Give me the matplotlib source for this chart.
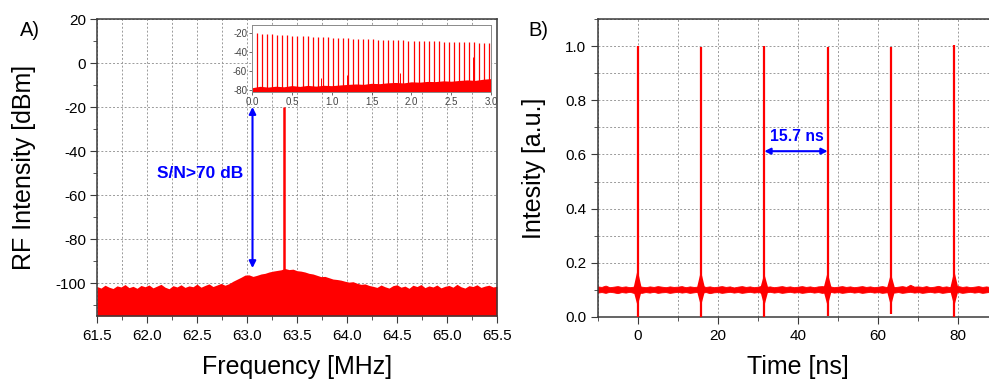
"""
Two-panel figure: RF spectrum of the mode-locked output (A) and the
corresponding oscilloscope pulse train (B).
"""

import matplotlib
matplotlib.use('Agg')
import matplotlib.pyplot as plt
import matplotlib.ticker as mticker
import numpy as np

plt.rcParams.update({
    'font.family': ['Liberation Sans', 'DejaVu Sans'],
    'font.size': 11,
    'axes.unicode_minus': False,
    'axes.linewidth': 1.1,
    'axes.edgecolor': '#3a3a3a',
    'xtick.color': '#3a3a3a',
    'ytick.color': '#3a3a3a',
    'xtick.labelcolor': 'black',
    'ytick.labelcolor': 'black',
    'xtick.direction': 'out',
    'ytick.direction': 'out',
    'xtick.major.size': 5,
    'ytick.major.size': 5,
    'xtick.minor.size': 3,
    'ytick.minor.size': 3,
})

RED = '#ff0000'
BLUE = '#0000ff'
GRID = dict(color='#9a9a9a', linestyle=(0, (2, 2)), linewidth=0.7)

# =============================================================================
# Panel A: RF spectrum around the fundamental (MHz, dBm)
# =============================================================================
# top edge of the noise floor, read every 0.04 MHz from 61.50 to 65.50
rf_floor_top = [
    -101.6, -102.3, -101.0, -101.9, -102.5, -101.3, -101.8, -100.7, -102.1, -101.5,
    -102.4, -101.1, -101.7, -100.9, -102.2, -101.4, -100.6, -101.9, -102.6, -101.2,
    -101.8, -100.8, -102.0, -101.3, -101.7, -100.5, -101.9, -101.1, -100.4, -101.6,
    -100.9, -100.2, -101.0,
    -100.3, -99.2, -98.3, -97.4, -96.4, -96.3, -97.0, -96.5, -95.9, -95.6,
    -95.0, -94.6, -94.3, -94.0, -93.4, -93.9, -93.7, -94.4, -94.6, -95.0,
    -95.6, -95.9, -96.5, -97.1, -97.0, -97.6, -98.2, -98.4, -98.7, -99.2,
    -99.6, -99.4, -100.1, -100.6, -100.4, -101.1,
    -101.5, -102.0, -100.9, -101.7, -102.3, -101.2, -100.8, -101.9, -101.4, -102.4,
    -101.0, -101.6, -100.7, -102.1, -101.3, -101.8, -100.9, -102.2, -101.5, -101.1,
    -101.9, -100.6, -101.7, -102.3, -101.2, -101.6, -100.8, -102.0, -101.4, -101.0,
    -101.8, -101.5,
]
rf_peak_freq = 63.37
rf_peak_level = -20.0

# inset: harmonics up to 3 GHz (GHz, dBm)
harm_freq = [
    0.063, 0.127, 0.190, 0.253, 0.317, 0.380, 0.444, 0.507, 0.570, 0.634,
    0.697, 0.760, 0.824, 0.887, 0.951, 1.014, 1.077, 1.141, 1.204, 1.267,
    1.331, 1.394, 1.458, 1.521, 1.584, 1.648, 1.711, 1.774, 1.838, 1.901,
    1.964, 2.028, 2.091, 2.155, 2.218, 2.281, 2.345, 2.408, 2.471, 2.535,
    2.598, 2.661, 2.725, 2.788, 2.852, 2.915, 2.978,
]
harm_level = [
    -19.5, -20.3, -20.6, -20.9, -21.4, -21.6, -21.9, -22.3, -22.4, -22.8,
    -23.1, -23.3, -23.6, -24.0, -24.2, -24.4, -24.8, -24.9, -25.2, -25.4,
    -25.5, -25.8, -26.0, -26.1, -26.4, -26.6, -26.7, -27.0, -27.2, -27.3,
    -27.5, -27.7, -27.8, -28.0, -28.2, -28.3, -28.5, -28.6, -28.8, -28.9,
    -29.1, -29.2, -29.4, -29.5, -29.7, -29.8, -30.0,
]
# inset noise floor, read every 0.1 GHz from 0 to 3.0
inset_floor_top = [
    -77.5, -76.0, -76.8, -75.9, -76.5, -75.2, -76.1, -75.0, -75.8, -74.9,
    -75.3, -74.6, -74.0, -73.5, -73.9, -72.8, -73.2, -72.3, -71.9, -72.4,
    -71.2, -71.6, -70.8, -71.0, -70.2, -70.6, -69.8, -69.2, -69.7, -68.5,
    -67.8,
]
spur_freq = [0.32, 0.64, 0.87, 1.19, 1.86, 2.47, 2.77]
spur_level = [-51.5, -58.5, -67.0, -64.0, -62.0, -58.0, -44.5]

# =============================================================================
# Panel B: pulse train (ns, a.u.)
# =============================================================================
pulse_t = [0.0, 15.8, 31.6, 47.4, 63.2, 79.0]
pulse_peak = [1.0, 0.998, 1.0, 0.995, 0.998, 1.003]
ring_top = [0.175, 0.17, 0.16, 0.165, 0.16, 0.17]
ring_bottom = [0.0, 0.0, 0.0, 0.005, 0.01, 0.0]

# baseline noise band, read every 1 ns from -10 to 88
trace_top = [
    0.113, 0.111, 0.116, 0.110, 0.112, 0.114, 0.111, 0.113, 0.110, 0.112,
    0.114, 0.112, 0.110, 0.113, 0.111, 0.114, 0.112, 0.110, 0.113, 0.111,
    0.112, 0.114, 0.110, 0.113, 0.111, 0.112, 0.115, 0.111, 0.113, 0.110,
    0.112, 0.114, 0.111, 0.113, 0.109, 0.112, 0.114, 0.111, 0.113, 0.110,
    0.112, 0.115, 0.111, 0.113, 0.110, 0.112, 0.114, 0.111, 0.113, 0.110,
    0.112, 0.114, 0.111, 0.113, 0.110, 0.113, 0.114, 0.112, 0.113, 0.110,
    0.112, 0.114, 0.111, 0.113, 0.110, 0.112, 0.114, 0.111, 0.113, 0.110,
    0.112, 0.114, 0.111, 0.113, 0.110, 0.112, 0.114, 0.111, 0.119, 0.112,
    0.113, 0.111, 0.114, 0.110, 0.112, 0.115, 0.111, 0.113, 0.110, 0.112,
    0.114, 0.111, 0.113, 0.110, 0.112, 0.114, 0.111, 0.113, 0.110,
]
trace_bottom = [
    0.090, 0.092, 0.089, 0.093, 0.091, 0.088, 0.092, 0.090, 0.093, 0.089,
    0.091, 0.089, 0.092, 0.090, 0.093, 0.089, 0.091, 0.092, 0.089, 0.091,
    0.093, 0.090, 0.092, 0.089, 0.091, 0.093, 0.090, 0.092, 0.088, 0.091,
    0.092, 0.089, 0.091, 0.093, 0.090, 0.092, 0.089, 0.091, 0.093, 0.090,
    0.092, 0.089, 0.091, 0.093, 0.090, 0.092, 0.089, 0.091, 0.093, 0.090,
    0.092, 0.089, 0.091, 0.093, 0.090, 0.092, 0.089, 0.091, 0.093, 0.090,
    0.092, 0.089, 0.091, 0.093, 0.090, 0.092, 0.089, 0.091, 0.093, 0.090,
    0.092, 0.089, 0.091, 0.093, 0.090, 0.092, 0.089, 0.091, 0.093, 0.090,
    0.092, 0.089, 0.091, 0.093, 0.090, 0.092, 0.089, 0.091, 0.093, 0.090,
    0.092, 0.089, 0.091, 0.093, 0.090, 0.092, 0.089, 0.091, 0.093,
]

fig = plt.figure(figsize=(9.89, 3.79), dpi=100)

# ----------------------------------------------------------------------------- A
axA = fig.add_axes([0.0981, 0.1662, 0.4044, 0.7836])
rf_freq = np.linspace(61.5, 65.5, len(rf_floor_top))
axA.fill_between(rf_freq, -115, rf_floor_top, color=RED, lw=0, zorder=2)
axA.vlines(rf_peak_freq, -100, rf_peak_level, color=RED, lw=1.8, zorder=3)

axA.set_xlim(61.5, 65.5)
axA.set_ylim(-115, 20)
axA.xaxis.set_major_locator(mticker.MultipleLocator(0.5))
axA.xaxis.set_minor_locator(mticker.MultipleLocator(0.25))
axA.xaxis.set_major_formatter(mticker.FormatStrFormatter('%.1f'))
axA.yaxis.set_major_locator(mticker.MultipleLocator(20))
axA.yaxis.set_minor_locator(mticker.MultipleLocator(10))
axA.xaxis.grid(True, which='both', **GRID)
axA.yaxis.grid(True, which='major', **GRID)
axA.set_axisbelow(True)
axA.tick_params(axis='x', which='major', pad=4)
axA.tick_params(axis='y', which='major', pad=3)
axA.set_xlabel('Frequency [MHz]', fontsize=18)
axA.set_ylabel('RF Intensity [dBm]', fontsize=18)
axA.xaxis.set_label_coords(0.5, -0.13)
axA.yaxis.set_label_coords(-0.152, 0.5)

axA.annotate('', xy=(63.055, -93.2), xytext=(63.055, -20.0),
             arrowprops=dict(arrowstyle='<|-|>', color=BLUE, lw=1.5,
                             mutation_scale=10, shrinkA=0, shrinkB=0))
axA.text(62.53, -50, 'S/N>70 dB', color=BLUE, fontsize=12.5,
         fontweight='bold', ha='center', va='center')

# inset with the wide-span spectrum
axI = fig.add_axes([0.2548, 0.7573, 0.2417, 0.1768])
inset_freq = np.linspace(0.0, 3.0, len(inset_floor_top))
axI.fill_between(inset_freq, -82, inset_floor_top, color=RED, lw=0)
axI.vlines(harm_freq, -82, harm_level, color=RED, lw=0.9)
axI.vlines(spur_freq, -82, spur_level, color=RED, lw=0.7)
axI.set_xlim(0, 3.0)
axI.set_ylim(-82, -11)
axI.xaxis.set_major_locator(mticker.MultipleLocator(0.5))
axI.xaxis.set_major_formatter(mticker.FormatStrFormatter('%.1f'))
axI.yaxis.set_major_locator(mticker.FixedLocator([-80, -60, -40, -20]))
axI.tick_params(labelsize=7, length=2.5, width=0.6, pad=1,
                colors='#555555', labelcolor='#444444')
for sp in axI.spines.values():
    sp.set_color('#8a8a8a')
    sp.set_linewidth(0.7)

fig.text(30 / 989, 1 - 30 / 379, 'A)', fontsize=14.5, ha='center', va='center')

# ----------------------------------------------------------------------------- B
axB = fig.add_axes([0.6042, 0.1636, 0.3972, 0.7863])
trace_t = np.linspace(-10, 88, len(trace_top))
axB.fill_between(trace_t, trace_bottom, trace_top, color=RED, lw=0.6, zorder=2)
for t, pk, rt, rb in zip(pulse_t, pulse_peak, ring_top, ring_bottom):
    axB.fill([t - 1.1, t, t + 1.1, t], [0.101, rt, 0.101, 0.04],
             color=RED, lw=0, zorder=3)
    axB.vlines(t, rb, pk, color=RED, lw=1.6, zorder=3)

axB.set_xlim(-10, 88)
axB.set_ylim(0, 1.1)
axB.xaxis.set_major_locator(mticker.MultipleLocator(20))
axB.xaxis.set_minor_locator(mticker.MultipleLocator(10))
axB.yaxis.set_major_locator(mticker.MultipleLocator(0.2))
axB.yaxis.set_minor_locator(mticker.MultipleLocator(0.1))
axB.yaxis.set_major_formatter(mticker.FormatStrFormatter('%.1f'))
axB.grid(True, which='both', **GRID)
axB.set_axisbelow(True)
axB.spines['right'].set_visible(False)
axB.tick_params(axis='x', which='major', pad=4)
axB.tick_params(axis='y', which='major', pad=3)
axB.set_xlabel('Time [ns]', fontsize=18)
axB.set_ylabel('Intesity [a.u.]', fontsize=18)
axB.xaxis.set_label_coords(0.51, -0.127)
axB.yaxis.set_label_coords(-0.131, 0.5)

axB.annotate('', xy=(pulse_t[3], 0.612), xytext=(pulse_t[2], 0.612),
             arrowprops=dict(arrowstyle='<|-|>', color=BLUE, lw=1.5,
                             mutation_scale=9, shrinkA=0, shrinkB=0))
axB.text(39.7, 0.667, '15.7 ns', color=BLUE, fontsize=11.3,
         fontweight='bold', ha='center', va='center')

fig.text(538 / 989, 1 - 30 / 379, 'B)', fontsize=14.5, ha='center', va='center')

fig.savefig('out.png', dpi=100)
